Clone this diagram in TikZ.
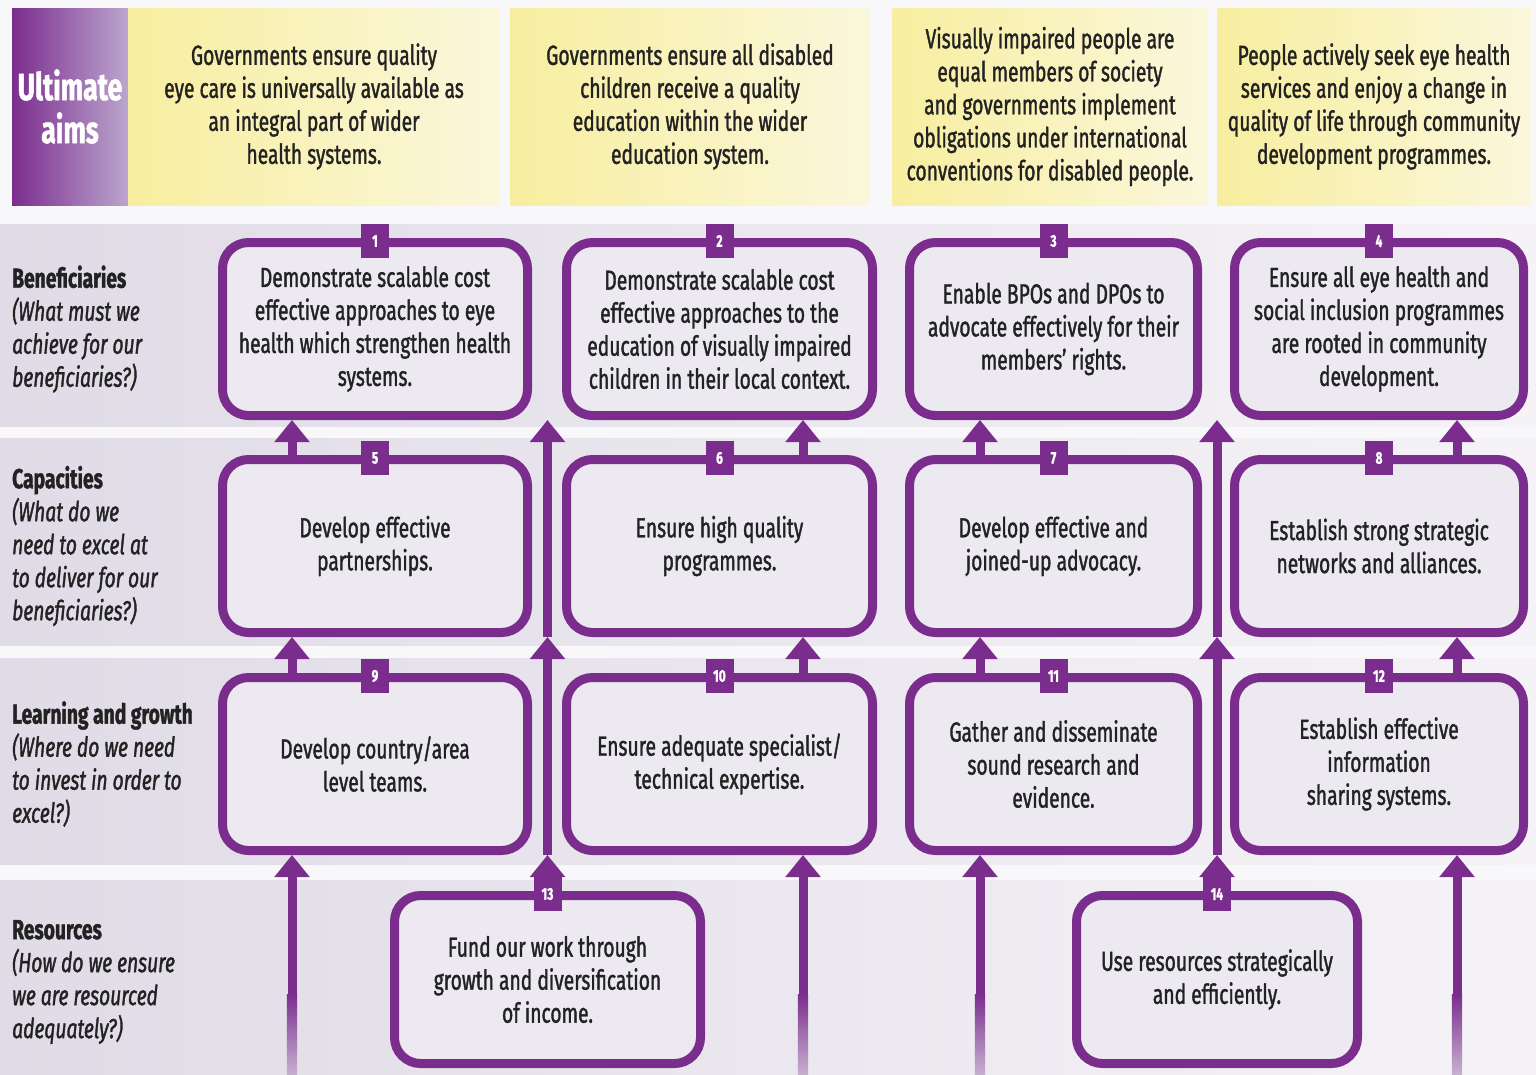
\documentclass[tikz,border=0pt]{standalone}
\usepackage{fontspec}
\setmainfont{Fira Sans}[FakeStretch=0.70, FakeBold=1.3]
\usetikzlibrary{arrows.meta}
\definecolor{purp}{HTML}{7B2D8E}
\definecolor{boxfill}{HTML}{ECEAF0}
\definecolor{bandL}{HTML}{E0DBE6}
\definecolor{bandR}{HTML}{F5F3F7}
\definecolor{yel}{HTML}{F7EE9F}
\definecolor{yelL}{HTML}{FBF7DC}
\definecolor{ink}{HTML}{222222}
\definecolor{bgc}{HTML}{F8F8FA}
\definecolor{uaR}{HTML}{BBA6CD}
\begin{document}
\begin{tikzpicture}[x=1pt,y=-1pt,
  boxnode/.style={draw=purp, line width=9pt, rounded corners=26pt, fill=boxfill,
    minimum height=173pt, align=center, text=ink, inner sep=2pt,
    font=\fontsize{27.5}{33}\selectfont},
  aimnode/.style={minimum height=197pt, align=center, text=ink, inner sep=0pt,
    left color=yel, right color=yelL, font=\fontsize{27.5}{33}\selectfont},
  tabnode/.style={fill=purp, text=white, minimum width=28pt, minimum height=34pt,
    inner sep=0pt, font=\fontsize{17}{17}\selectfont\bfseries},
  lblnode/.style={anchor=west, align=left, text=ink, inner sep=0pt,
    font=\fontsize{27.5}{33}\selectfont},
  arr/.style={draw=purp, line width=9pt, -{Triangle[width=34pt,length=22pt]}},
  band/.style={left color=bandL, right color=bandR},
  shaftfade/.style={top color=purp, bottom color=purp!25!bandL}
]
\useasboundingbox (0,0) rectangle (1536,1074);
\fill[bgc] (0,0) rectangle (1536,1074);
% bands
\fill[band] (0,224) rectangle (1536,426);
\fill[band] (0,438) rectangle (1536,645);
\fill[band] (0,658) rectangle (1536,864);
\fill[band] (0,880) rectangle (1536,1074);

% ultimate aims
\node[minimum width=116pt, minimum height=197pt, inner sep=0pt, left color=purp, right color=uaR,
  text=white, align=center, font=\fontsize{38}{43}\selectfont\bfseries] (ua) at (70,106.5) {Ultimate\\aims};
\node[aimnode, minimum width=372pt] (a1) at (314,106.5) {Governments ensure quality\\eye care is universally available as\\an integral part of wider\\health systems.};
\node[aimnode, minimum width=360pt] (a2) at (690,106.5) {Governments ensure all disabled\\children receive a quality\\education within the wider\\education system.};
\node[aimnode, minimum width=315pt] (a3) at (1050,106.5) {Visually impaired people are\\equal members of society\\and governments implement\\obligations under international\\conventions for disabled people.};
\node[aimnode, minimum width=313pt] (a4) at (1374,106.5) {People actively seek eye health\\services and enjoy a change in\\quality of life through community\\development programmes.};

% row labels
\node[lblnode] (l1) at (12,329) {\textbf{Beneficiaries}\\\textit{(What must we}\\\textit{achieve for our}\\\textit{beneficiaries?)}};
\node[lblnode] (l2) at (12,546) {\textbf{Capacities}\\\textit{(What do we}\\\textit{need to excel at}\\\textit{to deliver for our}\\\textit{beneficiaries?)}};
\node[lblnode] (l3) at (12,764) {\textbf{Learning and growth}\\\textit{(Where do we need}\\\textit{to invest in order to}\\\textit{excel?)}};
\node[lblnode] (l4) at (12,982) {\textbf{Resources}\\\textit{(How do we ensure}\\\textit{we are resourced}\\\textit{adequately?)}};

% boxes
\node[boxnode, minimum width=305pt] (b1) at (375,329) {Demonstrate scalable cost\\effective approaches to eye\\health which strengthen health\\systems.};
\node[boxnode, minimum width=306pt] (b2) at (719.5,329) {Demonstrate scalable cost\\effective approaches to the\\education of visually impaired\\children in their local context.};
\node[boxnode, minimum width=288pt] (b3) at (1053.5,329) {Enable BPOs and DPOs to\\advocate effectively for their\\members’ rights.};
\node[boxnode, minimum width=289pt] (b4) at (1379,329) {Ensure all eye health and\\social inclusion programmes\\are rooted in community\\development.};

\node[boxnode, minimum width=305pt] (b5) at (375,546) {Develop effective\\partnerships.};
\node[boxnode, minimum width=306pt] (b6) at (719.5,546) {Ensure high quality\\programmes.};
\node[boxnode, minimum width=288pt] (b7) at (1053.5,546) {Develop effective and\\joined-up advocacy.};
\node[boxnode, minimum width=289pt] (b8) at (1379,546) {Establish strong strategic\\networks and alliances.};

\node[boxnode, minimum width=305pt] (b9) at (375,764) {Develop country/area\\level teams.};
\node[boxnode, minimum width=306pt] (b10) at (719.5,764) {Ensure adequate specialist/\\technical expertise.};
\node[boxnode, minimum width=288pt] (b11) at (1053.5,764) {Gather and disseminate\\sound research and\\evidence.};
\node[boxnode, minimum width=289pt] (b12) at (1379,764) {Establish effective\\information\\sharing systems.};

\node[boxnode, minimum width=306pt, minimum height=168pt] (b13) at (547.5,979.5) {Fund our work through\\growth and diversification\\of income.};
\node[boxnode, minimum width=281pt, minimum height=168pt] (b14) at (1217,979.5) {Use resources strategically\\and efficiently.};

% free ends at the bottom edge
\coordinate (s1) at (292,1074);
\coordinate (s2) at (803,1074);
\coordinate (s3) at (980,1074);
\coordinate (s4) at (1457,1074);

% column arrows
\draw[arr] (s1) -- ([xshift=-83pt]b9.south);
\draw[arr] ([xshift=-83pt]b9.north) -- ([xshift=-83pt]b5.south);
\draw[arr] ([xshift=-83pt]b5.north) -- ([xshift=-83pt]b1.south);

\draw[arr] (s2) -- ([xshift=83.5pt]b10.south);
\draw[arr] ([xshift=83.5pt]b10.north) -- ([xshift=83.5pt]b6.south);
\draw[arr] ([xshift=83.5pt]b6.north) -- ([xshift=83.5pt]b2.south);

\draw[arr] (s3) -- ([xshift=-73.5pt]b11.south);
\draw[arr] ([xshift=-73.5pt]b11.north) -- ([xshift=-73.5pt]b7.south);
\draw[arr] ([xshift=-73.5pt]b7.north) -- ([xshift=-73.5pt]b3.south);

\draw[arr] (s4) -- ([xshift=78pt]b12.south);
\draw[arr] ([xshift=78pt]b12.north) -- ([xshift=78pt]b8.south);
\draw[arr] ([xshift=78pt]b8.north) -- ([xshift=78pt]b4.south);

% lighter lower ends of the bottom shafts
\foreach \s in {s1,s2,s3,s4} {
  \fill[shaftfade] ([shift={(-5.2,-80)}]\s) rectangle ([shift={(5.2,0)}]\s);
}

% long arrows from resources
\draw[arr] (b13.north) -- (b13.north |- b9.south);
\draw[arr] (b13.north |- b9.south) -- (b13.north |- b5.south);
\draw[arr] (b13.north |- b5.south) -- (b13.north |- b1.south);

\draw[arr] (b14.north) -- (b14.north |- b11.south);
\draw[arr] (b14.north |- b11.south) -- (b14.north |- b7.south);
\draw[arr] (b14.north |- b7.south) -- (b14.north |- b3.south);

% number tabs
\foreach \i in {1,...,14} {
  \node[tabnode] (t\i) at ([yshift=-3pt]b\i.north) {\i};
}
\end{tikzpicture}
\end{document}
